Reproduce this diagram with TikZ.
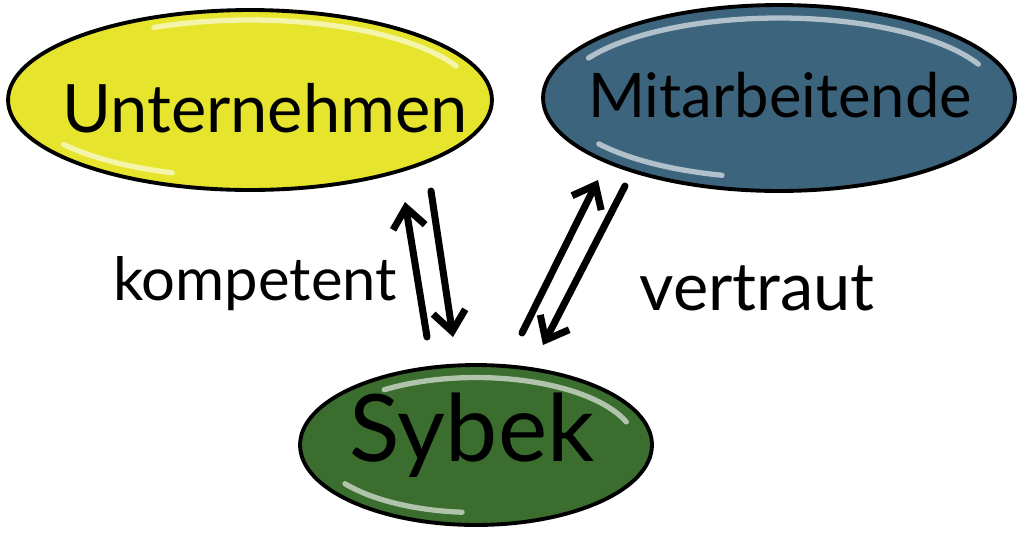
\documentclass[tikz,border=0pt]{standalone}
\usepackage{fontspec}
\setmainfont{Lato}
\usetikzlibrary{shapes.geometric}
\usetikzlibrary{arrows.meta}
\usetikzlibrary{calc}
\tikzset{every node/.style={inner sep=0pt, outer sep=1pt}}
\definecolor{firmgelb}{HTML}{E7E42D}
\definecolor{teamblau}{HTML}{3D647D}
\definecolor{sybekgruen}{HTML}{3A6D2E}
\tikzset{blob/.style={ellipse,draw=black,line width=2.2pt}}
\tikzset{gloss/.style={white,opacity=0.6,line width=3pt,line cap=round}}
\tikzset{pfeil/.style={line width=4pt,line cap=round,-{Straight Barb[length=4mm,width=6.5mm]}}}

\begin{document}
\begin{tikzpicture}[x=0.02cm,y=-0.02cm]
    \useasboundingbox (0,0) rectangle (1024,535);

    \node[blob,fill=firmgelb,minimum width=9.68cm,minimum height=3.6cm] (UnternehmenBlob) at (250,100) {};
    \node[blob,fill=teamblau,minimum width=9.44cm,minimum height=3.72cm] (MitarbeitendeBlob) at (779,98) {};
    \node[blob,fill=sybekgruen,minimum width=7.04cm,minimum height=3.2cm] (SybekBlob) at (476,445) {};

    % Glanzlichter
    \draw[gloss] ($(UnternehmenBlob.center)+(115:4.55cm and 1.6cm)$) arc[start angle=115,end angle=25,x radius=4.55cm,y radius=1.6cm];
    \draw[gloss] ($(UnternehmenBlob.center)+(215:4.55cm and 1.55cm)$) arc[start angle=215,end angle=250,x radius=4.55cm,y radius=1.55cm];
    \draw[gloss] ($(MitarbeitendeBlob.center)+(150:4.4cm and 1.6cm)$) arc[start angle=150,end angle=25,x radius=4.4cm,y radius=1.6cm];
    \draw[gloss] ($(MitarbeitendeBlob.center)+(215:4.4cm and 1.6cm)$) arc[start angle=215,end angle=255,x radius=4.4cm,y radius=1.6cm];
    \draw[gloss] ($(SybekBlob.center)+(125:3.2cm and 1.35cm)$) arc[start angle=125,end angle=20,x radius=3.2cm,y radius=1.35cm];
    \draw[gloss] ($(SybekBlob.center)+(215:3.2cm and 1.35cm)$) arc[start angle=215,end angle=265,x radius=3.2cm,y radius=1.35cm];

    \node[font=\fontsize{38}{38}\selectfont] (Unternehmen) at (265,108) {Unternehmen};
    \node[font=\fontsize{35}{35}\selectfont] (Mitarbeitende) at (780,95) {Mitarbeitende};
    \node[font=\fontsize{53}{53}\selectfont] (Sybek) at (472,435) {Sybek};
    \node[font=\fontsize{34}{34}\selectfont] (kompetent) at (255,284) {kompetent};
    \node[font=\fontsize{38}{38}\selectfont] (vertraut) at (757,288) {vertraut};

    \coordinate (LinksHoch) at (427,337);
    \coordinate (LinksOben) at (405,202);
    \coordinate (LinksRunter) at (431,191);
    \coordinate (LinksUnten) at (453,337);
    \coordinate (RechtsHoch) at (522,333);
    \coordinate (RechtsOben) at (598,180);
    \coordinate (RechtsRunter) at (625,186);
    \coordinate (RechtsUnten) at (543,345);

    \draw[pfeil] (LinksHoch) -- (LinksOben);
    \draw[pfeil] (LinksRunter) -- (LinksUnten);
    \draw[pfeil] (RechtsHoch) -- (RechtsOben);
    \draw[pfeil] (RechtsRunter) -- (RechtsUnten);

\end{tikzpicture}
\end{document}
